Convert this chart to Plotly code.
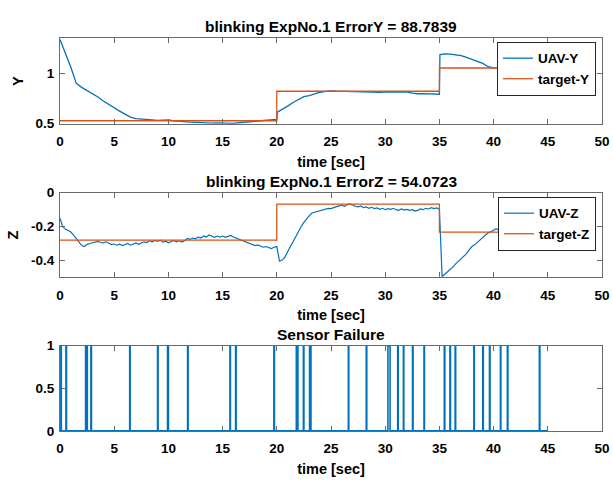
import numpy as np
import plotly.graph_objects as go

# ---------------- data ----------------
uav_y_t = [0, 0.25, 0.5, 0.75, 1.0, 1.25, 1.5, 2.0, 2.5, 3.0, 3.5, 4.0, 4.5, 5.0, 5.5, 6.0, 6.5, 7.0, 7.5,
           8.0, 8.5, 9.0, 9.5, 10.0, 10.5, 11.0, 11.5, 12.0, 12.5, 13.0, 13.5, 14.0, 14.5, 15.0, 15.5, 16.0,
           16.5, 17.0, 17.5, 18.0, 18.5, 19.0, 19.5, 20.0, 20.05, 20.5, 21.0, 21.5, 22.0, 22.5, 23.0, 23.5,
           24.0, 24.5, 25.0, 25.5, 26.0, 26.5, 27.0, 27.5, 28.0, 28.5, 29.0, 29.5, 30.0, 30.5, 31.0, 31.5,
           32.0, 32.5, 33.0, 33.5, 34.0, 34.5, 35.0, 35.05, 35.5, 36.0, 36.5, 37.0, 37.5, 38.0, 38.5, 39.0,
           39.5, 40.0, 40.5, 41.0, 42.0, 43.0, 44.0, 45.0]
uav_y = [1.335, 1.27, 1.20, 1.13, 1.06, 0.98, 0.90, 0.86, 0.83, 0.80, 0.765, 0.725, 0.69, 0.655, 0.625,
         0.595, 0.565, 0.550, 0.548, 0.542, 0.538, 0.533, 0.535, 0.537, 0.528, 0.522, 0.520, 0.516, 0.514,
         0.510, 0.509, 0.507, 0.509, 0.506, 0.504, 0.503, 0.510, 0.513, 0.518, 0.523, 0.530, 0.537, 0.541,
         0.544, 0.615, 0.640, 0.675, 0.710, 0.742, 0.768, 0.778, 0.795, 0.812, 0.820, 0.826, 0.823, 0.821,
         0.818, 0.818, 0.815, 0.812, 0.810, 0.805, 0.810, 0.815, 0.813, 0.815, 0.812, 0.814, 0.804, 0.797,
         0.798, 0.796, 0.794, 0.792, 1.185, 1.192, 1.190, 1.186, 1.175, 1.158, 1.138, 1.120, 1.098, 1.065,
         1.053, 1.050, 1.052, 1.049, 1.051, 1.050, 1.050]

target_y_t = [0, 20, 35, 45]
target_y = [0.53, 0.822, 1.052, 1.052]

uav_z_dt = 0.25
uav_z = [-0.150, -0.200, -0.215, -0.225, -0.232, -0.250, -0.270, -0.295, -0.312, -0.318, -0.305, -0.300,
         -0.296, -0.292, -0.288, -0.294, -0.296, -0.290, -0.300, -0.306, -0.303, -0.310, -0.304, -0.312,
         -0.306, -0.300, -0.310, -0.302, -0.296, -0.305, -0.298, -0.290, -0.294, -0.284, -0.290, -0.282,
         -0.288, -0.280, -0.292, -0.286, -0.296, -0.288, -0.282, -0.290, -0.284, -0.292, -0.284, -0.270,
         -0.276, -0.268, -0.272, -0.262, -0.268, -0.255, -0.262, -0.250, -0.258, -0.264, -0.256, -0.262,
         -0.256, -0.264, -0.258, -0.252, -0.262, -0.268, -0.276, -0.284, -0.288, -0.296, -0.302, -0.306,
         -0.312, -0.308, -0.316, -0.322, -0.318, -0.326, -0.330, -0.322, -0.318, -0.405, -0.398, -0.380,
         -0.345, -0.318, -0.290, -0.258, -0.228, -0.200, -0.175, -0.152, -0.135, -0.120, -0.115, -0.108,
         -0.104, -0.100, -0.096, -0.092, -0.094, -0.086, -0.082, -0.078, -0.074, -0.080, -0.070, -0.066,
         -0.074, -0.080, -0.084, -0.078, -0.088, -0.084, -0.092, -0.086, -0.094, -0.090, -0.098, -0.092,
         -0.100, -0.094, -0.098, -0.092, -0.100, -0.104, -0.096, -0.102, -0.098, -0.104, -0.100, -0.108,
         -0.104, -0.096, -0.100, -0.092, -0.096, -0.088, -0.094, -0.090, -0.098, -0.495, -0.482, -0.468,
         -0.450, -0.438, -0.420, -0.405, -0.388, -0.372, -0.360, -0.338, -0.318, -0.308, -0.292, -0.276,
         -0.262, -0.250, -0.238, -0.228, -0.220, -0.212, -0.225, -0.232, -0.238, -0.244, -0.250, -0.254,
         -0.258, -0.262, -0.256, -0.264, -0.260, -0.266, -0.262, -0.268, -0.264, -0.270, -0.264, -0.268,
         -0.262]
uav_z_t = list(np.arange(len(uav_z)) * uav_z_dt)

target_z_t = [0, 20, 35, 45]
target_z = [-0.28, -0.067, -0.233, -0.233]

fail_start = [0.08, 0.55, 2.36, 2.50, 2.85, 6.43, 9.00, 9.92, 11.77, 15.68, 16.20, 19.73, 21.80, 22.45,
              23.02, 26.60, 28.25, 30.25, 31.15, 31.68, 32.52, 33.58, 35.45, 35.97, 36.45, 38.18, 39.00,
              39.62, 40.63, 41.27, 44.22]
fail_end = [0.12, 0.60, 2.42, 2.52, 2.90, 6.47, 9.05, 10.00, 11.82, 15.72, 16.25, 19.78, 21.95, 22.50,
            23.15, 26.64, 28.30, 30.45, 31.20, 31.72, 32.57, 33.62, 35.50, 36.02, 36.50, 38.22, 39.05,
            39.67, 40.67, 41.32, 44.27]
fail_t_end = 45

x_ticks = list(range(0, 51, 5))

# build failure step signal from the intervals
fx, fy = [0], [0]
for s, e in zip(fail_start, fail_end):
    fx += [s, e]
    fy += [1, 0]
fx.append(fail_t_end)
fy.append(0)

# ---------------- style ----------------
BLUE = '#0072BD'
ORANGE = '#D95319'
FONT = 'Liberation Sans, Arial, sans-serif'
AXC = '#6a6a6a'
W, H = 613, 483
L, R = 60, 11

def py(pix):
    return 1 - pix / H

doms = [(py(120.5), py(32.5)), (py(279.0), py(191.7)), (py(437.5), py(349.5))]

fig = go.Figure()
fig.add_trace(go.Scatter(x=uav_y_t, y=uav_y, mode='lines', name='UAV-Y',
                         line=dict(color=BLUE, width=1.3), xaxis='x', yaxis='y', legend='legend'))
fig.add_trace(go.Scatter(x=target_y_t, y=target_y, mode='lines', name='target-Y', line_shape='hv',
                         line=dict(color=ORANGE, width=1.3), xaxis='x', yaxis='y', legend='legend'))
fig.add_trace(go.Scatter(x=uav_z_t, y=uav_z, mode='lines', name='UAV-Z',
                         line=dict(color=BLUE, width=1.2), xaxis='x2', yaxis='y2', legend='legend2'))
fig.add_trace(go.Scatter(x=target_z_t, y=target_z, mode='lines', name='target-Z', line_shape='hv',
                         line=dict(color=ORANGE, width=1.3), xaxis='x2', yaxis='y2', legend='legend2'))
fig.add_trace(go.Scatter(x=fx, y=fy, mode='lines', line_shape='hv', showlegend=False,
                         line=dict(color=BLUE, width=1.6), xaxis='x3', yaxis='y3'))

tickfont = dict(family=FONT, size=13.5, color='black', weight='bold')
labfont = dict(family=FONT, size=14.5, color='black', weight='bold')

def xax(anchor):
    return dict(domain=[0, 1], anchor=anchor, range=[0, 50], tickvals=x_ticks,
                ticktext=[str(v) for v in x_ticks], ticks='inside', ticklen=5, tickcolor=AXC,
                showline=True, linecolor=AXC, linewidth=1, mirror='ticks', showgrid=False,
                zeroline=False, tickfont=tickfont, ticklabelstandoff=5,
                title=dict(text='time [sec]', font=labfont, standoff=8))

def yax(anchor, dom, rng, tv, tt, title):
    return dict(domain=list(dom), anchor=anchor, range=rng, tickvals=tv, ticktext=tt,
                ticks='inside', ticklen=5, tickcolor=AXC, showline=True, linecolor=AXC,
                linewidth=1, mirror='ticks', showgrid=False, zeroline=False, tickfont=tickfont,
                ticklabelstandoff=2,
                title=dict(text=title, font=labfont, standoff=8))

legstyle = dict(bgcolor='white', bordercolor='#262626', borderwidth=1, xanchor='right',
                yanchor='top', x=(596 - L) / (W - L - R),
                font=dict(family=FONT, size=13.5, color='black', weight='bold'),
                tracegroupgap=0)

fig.update_layout(
    width=W, height=H, margin=dict(l=L, r=R, t=0, b=0),
    paper_bgcolor='white', plot_bgcolor='white',
    xaxis=xax('y'), xaxis2=xax('y2'), xaxis3=xax('y3'),
    yaxis=yax('x', doms[0], [0.5, 1.344], [0.5, 1], ['0.5', '1'], 'Y'),
    yaxis2=yax('x2', doms[1], [-0.5, 0], [-0.4, -0.2, 0], ['-0.4', '-0.2', '0'], 'Z'),
    yaxis3=yax('x3', doms[2], [0, 1], [0, 0.5, 1], ['0', '0.5', '1'], ''),
    legend=dict(legstyle, y=py(36)),
    legend2=dict(legstyle, y=py(196)),
    showlegend=True,
)
fig.update_xaxes(layer='below traces', selector=dict(anchor='y3'))
fig.update_yaxes(layer='below traces', selector=dict(anchor='x3'))

titles = ['blinking ExpNo.1 ErrorY = 88.7839', 'blinking ExpNo.1 ErrorZ = 54.0723', 'Sensor Failure']
for (d0, d1), txt in zip(doms, titles):
    fig.add_annotation(text=txt, x=0.5, xref='paper', y=d1 + 12 / H, yref='paper',
                       xanchor='center', yanchor='middle', showarrow=False,
                       font=dict(family=FONT, size=15.5, color='black', weight='bold'))

fig.write_html('out.html')
